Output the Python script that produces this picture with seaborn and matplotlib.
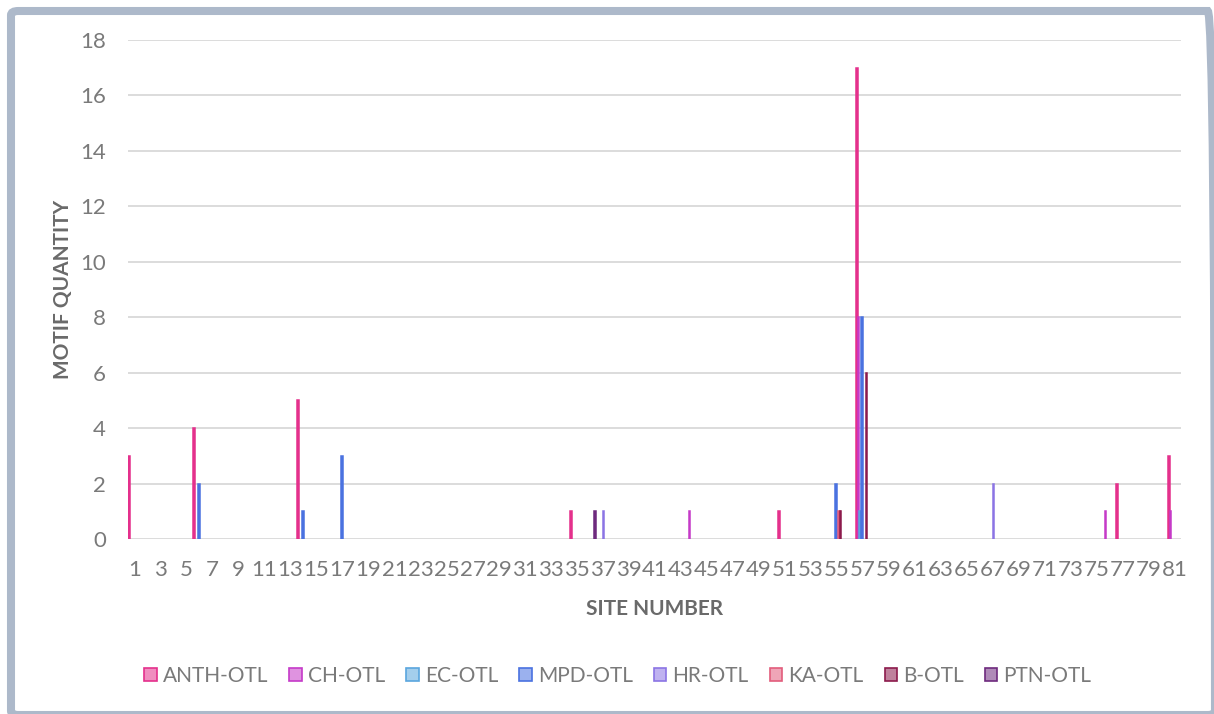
import matplotlib
matplotlib.use("Agg")
import matplotlib.pyplot as plt
from matplotlib.patches import Patch, FancyBboxPatch
from matplotlib.colors import to_rgba
import seaborn as sns
import pandas as pd

# Site numbers along the x axis
sites = list(range(1, 82))

# Motif counts per series, listed as (site, quantity); every other site is 0
series_names = ["ANTH-OTL", "CH-OTL", "EC-OTL", "MPD-OTL", "HR-OTL", "KA-OTL", "B-OTL", "PTN-OTL"]
anth_sites, anth_vals = [1, 6, 14, 35, 51, 57, 77, 81], [3, 4, 5, 1, 1, 17, 2, 3]
ch_sites, ch_vals = [44, 57, 76, 81], [1, 8, 1, 1]
ec_sites, ec_vals = [57], [1]
mpd_sites, mpd_vals = [6, 14, 17, 55, 57], [2, 1, 3, 2, 8]
hr_sites, hr_vals = [37, 67], [1, 2]
ka_sites, ka_vals = [55], [1]
b_sites, b_vals = [55, 57], [1, 6]
ptn_sites, ptn_vals = [36], [1]

series_colors = ["#E4308C", "#C53AC8", "#5AA6DE", "#4A72E0", "#8B74E4", "#E25C7C", "#8C1A4C", "#6E2A7E"]

sparse = [
    (anth_sites, anth_vals), (ch_sites, ch_vals), (ec_sites, ec_vals), (mpd_sites, mpd_vals),
    (hr_sites, hr_vals), (ka_sites, ka_vals), (b_sites, b_vals), (ptn_sites, ptn_vals),
]

rows = []
for name, (s_list, v_list) in zip(series_names, sparse):
    lookup = dict(zip(s_list, v_list))
    for s in sites:
        rows.append({"site": str(s), "series": name, "qty": lookup.get(s, 0)})
df = pd.DataFrame(rows)
drawn = df[df["qty"] > 0]

sns.set_theme(style="white")
plt.rcParams["font.family"] = ["Lato", "DejaVu Sans"]

fig = plt.figure(figsize=(12.14, 7.14), dpi=100)
W, H = 1214, 714
ax = fig.add_axes([128 / W, 1 - 539 / H, (1181 - 128) / W, (539 - 40) / H])

palette = dict(zip(series_names, series_colors))
sns.barplot(
    data=drawn, x="site", y="qty", hue="series",
    order=[str(s) for s in sites], hue_order=series_names,
    palette=palette, width=1.0, dodge=True, errorbar=None,
    saturation=1, linewidth=1.1, legend=False, ax=ax,
)
for bar in ax.patches:
    bar.set_edgecolor(bar.get_facecolor())

ax.set_xlim(-0.5, len(sites) - 0.5)
ax.set_ylim(0, 18)
ax.set_yticks(range(0, 19, 2))
ax.yaxis.grid(True, color="#D9D9D9", linewidth=1.3)
ax.set_axisbelow(True)
for sp in ax.spines.values():
    sp.set_visible(False)

tick_gray = "#7A7A7A"
label_gray = "#6A6A6A"

ax.set_xticks(range(0, len(sites), 2))
ax.set_xticklabels([str(s) for s in sites[::2]])
ax.tick_params(axis="x", length=0, pad=15, labelsize=16, labelcolor=tick_gray)
ax.tick_params(axis="y", length=0, pad=16, labelsize=16, labelcolor=tick_gray)

ax.set_xlabel("SITE NUMBER", fontsize=15, fontweight="bold", color=label_gray, labelpad=14)
ax.set_ylabel("MOTIF QUANTITY", fontsize=15, fontweight="bold", color=label_gray, labelpad=5)

handles = [
    Patch(facecolor=to_rgba(c, 0.55), edgecolor=c, linewidth=1.2, label=n)
    for n, c in zip(series_names, series_colors)
]
fig.legend(
    handles=handles, loc="center", bbox_to_anchor=(618 / W, 1 - 676 / H), ncol=8,
    frameon=False, fontsize=15, labelcolor=tick_gray,
    handlelength=0.6, handleheight=0.6, handletextpad=0.3, columnspacing=1.0,
)

# Rounded outer frame
frame = FancyBboxPatch(
    (11 / W, 1 - 715 / H), (1215 - 11) / W, (715 - 11) / H,
    boxstyle="round,pad=0,rounding_size=0.006",
    transform=fig.transFigure, facecolor="none", edgecolor="#ADB9CA", linewidth=5.8,
)
fig.patches.append(frame)

fig.savefig("out.png", dpi=100, facecolor="white")
